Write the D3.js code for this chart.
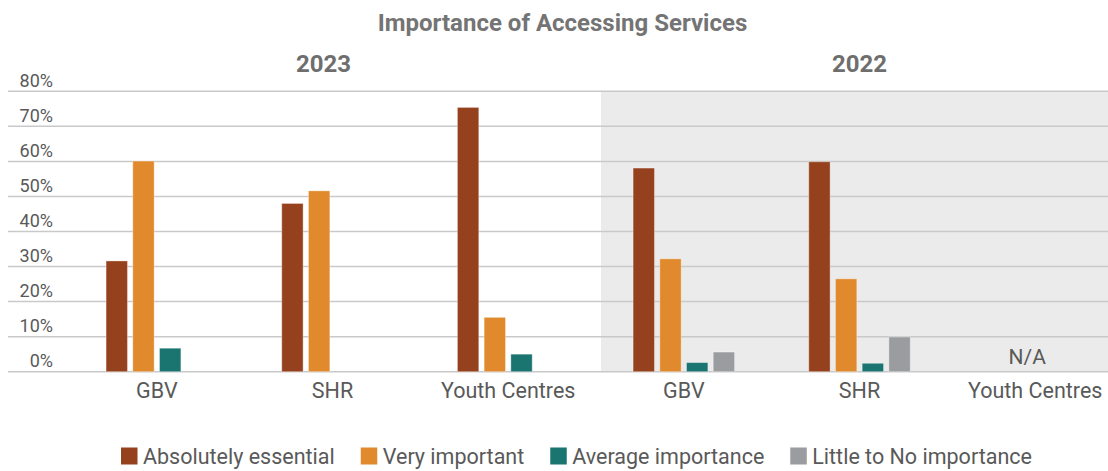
<!DOCTYPE html>
<html>
<head>
<meta charset="utf-8">
<script src="https://cdn.jsdelivr.net/npm/d3@7"></script>
<style>
  html, body { margin: 0; padding: 0; background: #fff; }
  svg { display: block; font-family: Roboto, "Noto Sans", sans-serif; }
</style>
</head>
<body>
<svg id="chart" width="1108" height="471"></svg>
<script>
// ---- Data ----
const years = ["2023", "2022"];
const services = ["GBV", "SHR", "Youth Centres"];
const series = ["Absolutely essential", "Very important", "Average importance", "Little to No importance"];
const colors = ["#96411E", "#E08A2D", "#1A7470", "#9B9C9F"];
// values in %, order: [GBV, SHR, Youth Centres]; null = N/A
const absolutelyEssential2023 = [31.6, 48.0, 75.4];
const veryImportant2023       = [60.1, 51.6, 15.5];
const averageImportance2023   = [6.7, 0, 5.0];
const littleToNo2023          = [0, 0, 0];
const absolutelyEssential2022 = [58.1, 59.9, null];
const veryImportant2022       = [32.2, 26.5, null];
const averageImportance2022   = [2.6, 2.4, null];
const littleToNo2022          = [5.6, 9.9, null];
const yTicks = [0, 10, 20, 30, 40, 50, 60, 70, 80];
const title = "Importance of Accessing Services";
const naLabel = "N/A";

// ---- Build table ----
const byYear = {
  "2023": [absolutelyEssential2023, veryImportant2023, averageImportance2023, littleToNo2023],
  "2022": [absolutelyEssential2022, veryImportant2022, averageImportance2022, littleToNo2022]
};
const groups = [];
years.forEach(yr => services.forEach((svc, i) => {
  groups.push({
    key: yr + "|" + svc, year: yr, service: svc,
    values: series.map((s, k) => ({ series: s, color: colors[k], value: byYear[yr][k][i] }))
  });
}));

const svg = d3.select("#chart");
const gridLeft = 8, gridRight = 1108;

const x0 = d3.scaleBand().domain(groups.map(g => g.key)).range([69, 1123]).padding(0);
const groupW = 101.5;
const x1 = d3.scaleBand().domain(series).range([0, groupW]).paddingInner(0.2).paddingOuter(0);
const y = d3.scaleLinear().domain([0, 80]).range([371.7, 91.3]);
const color = d3.scaleOrdinal().domain(series).range(colors);

// shaded 2022 panel
const firstOf2022 = groups.find(g => g.year === "2022").key;
const panelX = x0(firstOf2022) + 5;
svg.append("rect")
  .attr("x", panelX).attr("y", y(80))
  .attr("width", gridRight - panelX).attr("height", y(0) - y(80))
  .attr("fill", "#EBEBEB");

// gridlines
svg.append("g").selectAll("line").data(yTicks).join("line")
  .attr("x1", gridLeft).attr("x2", gridRight)
  .attr("y1", d => y(d)).attr("y2", d => y(d))
  .attr("stroke", "#C9C9C9").attr("stroke-width", 1.5);

// y labels (above gridlines)
const yAxis = svg.append("g").attr("transform", "translate(53,0)")
  .call(d3.axisLeft(y).tickValues(yTicks).tickSize(0).tickPadding(0).tickFormat(d => d + "%"));
yAxis.select(".domain").remove();
yAxis.selectAll("text")
  .attr("dy", "-0.28em").attr("fill", "#595959")
  .style("font-size", "18px").style("font-family", "Roboto, sans-serif");

// bars
const gG = svg.append("g").selectAll("g").data(groups).join("g")
  .attr("transform", d => `translate(${x0(d.key) + (x0.bandwidth() - groupW) / 2},0)`);
gG.selectAll("rect").data(d => d.values.filter(v => v.value !== null)).join("rect")
  .attr("x", d => x1(d.series))
  .attr("width", x1.bandwidth())
  .attr("y", d => y(d.value))
  .attr("height", d => y(0) - y(d.value))
  .attr("fill", d => color(d.series))
  .attr("stroke", "#ffffff").attr("stroke-opacity", 0.35).attr("stroke-width", 1);

// N/A label
svg.append("g").selectAll("text").data(groups.filter(g => g.values.every(v => v.value === null))).join("text")
  .attr("x", d => x0(d.key) + x0.bandwidth() / 2 - 8)
  .attr("y", 364.3)
  .attr("text-anchor", "middle")
  .attr("fill", "#595959").style("font-size", "21px")
  .text(naLabel);

// x axis labels
const xAxis = svg.append("g").attr("transform", `translate(0,${y(0)})`)
  .call(d3.axisBottom(x0).tickSize(0).tickPadding(11).tickFormat(k => k.split("|")[1]));
xAxis.select(".domain").remove();
xAxis.selectAll("text").attr("fill", "#595959")
  .style("font-size", "21.5px").style("font-family", "Roboto, sans-serif");

// year headers
years.forEach(yr => {
  const ks = groups.filter(g => g.year === yr).map(g => g.key);
  const cx = (x0(ks[0]) + x0(ks[ks.length - 1]) + x0.bandwidth()) / 2;
  svg.append("text")
    .attr("x", yr === "2023" ? cx - 9 : cx).attr("y", 72.3)
    .attr("text-anchor", "middle")
    .attr("fill", "#6E6E6E").style("font-size", "24px").style("font-weight", "700")
    .text(yr);
});

// title
svg.append("text")
  .attr("x", 562.5).attr("y", 31)
  .attr("text-anchor", "middle")
  .attr("fill", "#747474").style("font-size", "24px").style("font-weight", "700")
  .text(title);

// legend
const leg = svg.append("g");
let lx = 121;
series.forEach((s, i) => {
  leg.append("rect").attr("x", lx).attr("y", 447.5).attr("width", 16.5).attr("height", 17)
    .attr("fill", color(s));
  const t = leg.append("text").attr("x", lx + 22).attr("y", 464)
    .attr("fill", "#595959").style("font-size", "21.5px").text(s);
  lx += 22 + t.node().getComputedTextLength() + 26;
});
</script>
</body>
</html>
